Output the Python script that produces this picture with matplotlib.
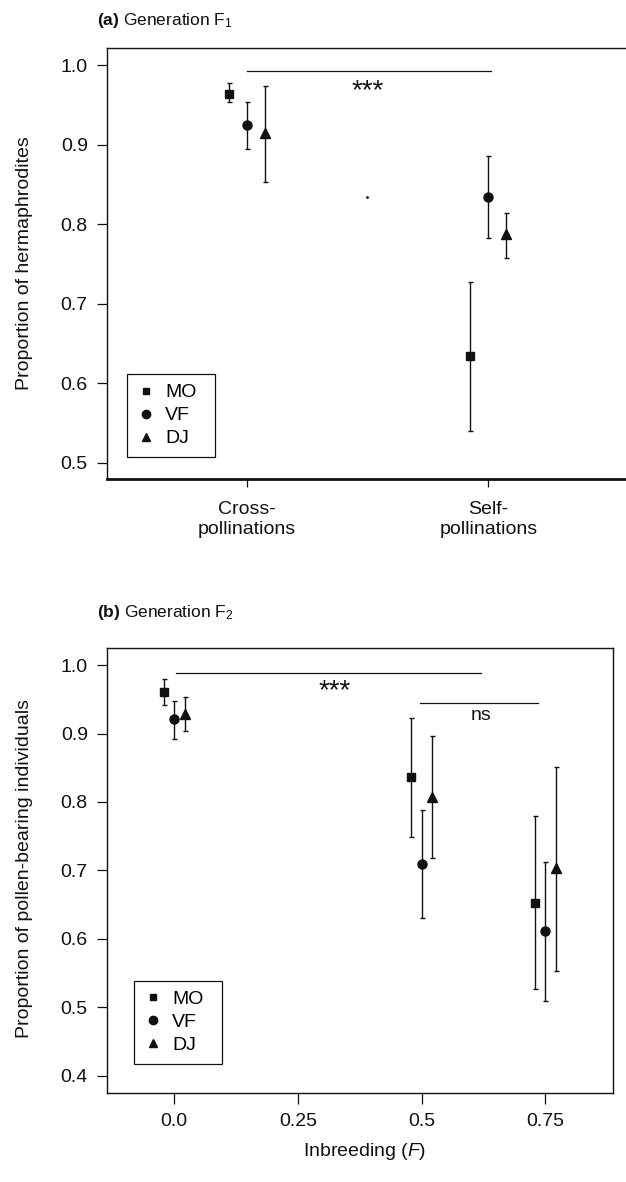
import numpy as np
import matplotlib
matplotlib.use("Agg")
import matplotlib.pyplot as plt
from matplotlib.lines import Line2D

plt.rcParams['font.family'] = ['Liberation Sans', 'DejaVu Sans']
plt.rcParams['mathtext.fontset'] = 'custom'
plt.rcParams['mathtext.rm'] = 'Liberation Sans'
plt.rcParams['mathtext.it'] = 'Liberation Sans:italic'
plt.rcParams['mathtext.bf'] = 'Liberation Sans:bold'

W, H = 626, 1182
INK = '#111111'

populations = ["MO", "VF", "DJ"]
markers = {"MO": "s", "VF": "o", "DJ": "^"}
msizes = {"MO": 5.3, "VF": 6.5, "DJ": 7}

# (a) generation F1, cross vs self pollinations
f1_labels = ["Cross-\npollinations", "Self-\npollinations"]
f1_mean = {"MO": [0.964, 0.634], "VF": [0.924, 0.834], "DJ": [0.915, 0.787]}
f1_low = {"MO": [0.953, 0.540], "VF": [0.895, 0.783], "DJ": [0.853, 0.757]}
f1_high = {"MO": [0.978, 0.727], "VF": [0.953, 0.885], "DJ": [0.974, 0.814]}
f1_stray = (1.497, 0.834)  # stray dot in the original figure

# (b) generation F2, by inbreeding coefficient
f2_F = [0.0, 0.5, 0.75]
f2_ticks = [0.0, 0.25, 0.5, 0.75]
f2_ticklabels = ["0.0", "0.25", "0.5", "0.75"]
f2_mean = {"MO": [0.960, 0.836, 0.652], "VF": [0.921, 0.710, 0.612], "DJ": [0.928, 0.808, 0.703]}
f2_low = {"MO": [0.941, 0.749, 0.527], "VF": [0.892, 0.631, 0.510], "DJ": [0.904, 0.718, 0.553]}
f2_high = {"MO": [0.980, 0.922, 0.779], "VF": [0.948, 0.788, 0.712], "DJ": [0.953, 0.897, 0.851]}


def fx(px):
    return px / W


def fy(py):
    return 1 - py / H


def draw_points(ax, xs, mean, low, high, offset):
    for k, pop in enumerate(populations):
        x = np.array(xs, dtype=float) + (k - 1) * offset
        m = np.array(mean[pop])
        err = [m - np.array(low[pop]), np.array(high[pop]) - m]
        ax.errorbar(x, m, yerr=err, fmt=markers[pop], ms=msizes[pop],
                    color=INK, mec=INK, mfc=INK, ecolor=INK, elinewidth=1.0,
                    capsize=1.8, capthick=1.0, zorder=3)


def style_axes(ax):
    for s in ax.spines.values():
        s.set_color(INK)
        s.set_linewidth(1.0)
    ax.tick_params(direction='out', length=7, width=0.9, color=INK,
                   labelsize=14, labelcolor=INK, pad=6.8)


def add_legend(ax, left, top, right):
    handles = [Line2D([], [], linestyle='none', marker=markers[p], color=INK,
                      ms={"MO": 4.5, "VF": 6, "DJ": 5.5}[p]) for p in populations]
    leg = ax.legend(handles, populations, loc='upper left',
                    bbox_to_anchor=(fx(left), fy(top) - 0.2, fx(right) - fx(left), 0.2),
                    bbox_transform=ax.figure.transFigure, mode='expand',
                    fontsize=14, frameon=True, fancybox=False, framealpha=1,
                    edgecolor=INK, borderpad=0.5, handlelength=1.0,
                    handletextpad=0.45, labelspacing=0.28, borderaxespad=0)
    leg.get_frame().set_linewidth(0.9)


fig = plt.figure(figsize=(W / 100, H / 100), dpi=100)

# ---- panel (a)
ax1 = fig.add_axes([fx(107), fy(479), fx(626) - fx(107), fy(48) - fy(479)])
style_axes(ax1)
ax1.spines['right'].set_visible(False)
ax1.spines['bottom'].set_linewidth(2.0)
draw_points(ax1, [1, 2], f1_mean, f1_low, f1_high, 0.075)
ax1.plot([f1_stray[0]], [f1_stray[1]], marker='.', ms=2, color=INK, linestyle='none')
ax1.plot([1.0, 2.01], [0.993, 0.993], color=INK, lw=0.9)
ax1.text(1.5, 0.958, "***", ha='center', va='baseline', fontsize=20, color=INK)
ax1.set_xlim(0.422, 2.570)
ax1.set_ylim(0.4795, 1.0214)
ax1.set_yticks([0.5, 0.6, 0.7, 0.8, 0.9, 1.0])
ax1.set_yticklabels(["0.5", "0.6", "0.7", "0.8", "0.9", "1.0"])
ax1.set_xticks([1, 2])
ax1.set_xticklabels(f1_labels)
ax1.tick_params(axis='x', length=6, pad=10)
add_legend(ax1, 127, 374, 215)

fig.text(fx(97), fy(21), r"$\mathbf{(a)}$ Generation F$_1$", ha='left', va='center',
         fontsize=12.5, color=INK)
fig.text(fx(25), fy(263.5), "Proportion of hermaphrodites", rotation=90,
         ha='center', va='center', fontsize=14, color=INK)

# ---- panel (b)
ax2 = fig.add_axes([fx(107), fy(1093.3), fx(613.3) - fx(107), fy(648.3) - fy(1093.3)])
style_axes(ax2)
draw_points(ax2, f2_F, f2_mean, f2_low, f2_high, 0.021)
ax2.plot([0.003, 0.62], [0.988, 0.988], color=INK, lw=0.9)
ax2.text(0.323, 0.952, "***", ha='center', va='baseline', fontsize=20, color=INK)
ax2.plot([0.497, 0.735], [0.944, 0.944], color=INK, lw=0.9)
ax2.text(0.62, 0.926, "ns", ha='center', va='center', fontsize=14, color=INK)
ax2.set_xlim(-0.136, 0.887)
ax2.set_ylim(0.3747, 1.0244)
ax2.set_yticks([0.4, 0.5, 0.6, 0.7, 0.8, 0.9, 1.0])
ax2.set_yticklabels(["0.4", "0.5", "0.6", "0.7", "0.8", "0.9", "1.0"])
ax2.set_xticks(f2_ticks)
ax2.set_xticklabels(f2_ticklabels)
ax2.tick_params(axis='x', length=8, pad=6.5)
add_legend(ax2, 134, 980.7, 221.7)

fig.text(fx(97), fy(612.5), r"$\mathbf{(b)}$ Generation F$_2$", ha='left', va='center',
         fontsize=12.5, color=INK)
fig.text(fx(25), fy(869), "Proportion of pollen-bearing individuals", rotation=90,
         ha='center', va='center', fontsize=14, color=INK)
fig.text(fx(365), fy(1152), r"Inbreeding ($F$)", ha='center', va='center',
         fontsize=14, color=INK)

fig.savefig("out.png", dpi=100)
